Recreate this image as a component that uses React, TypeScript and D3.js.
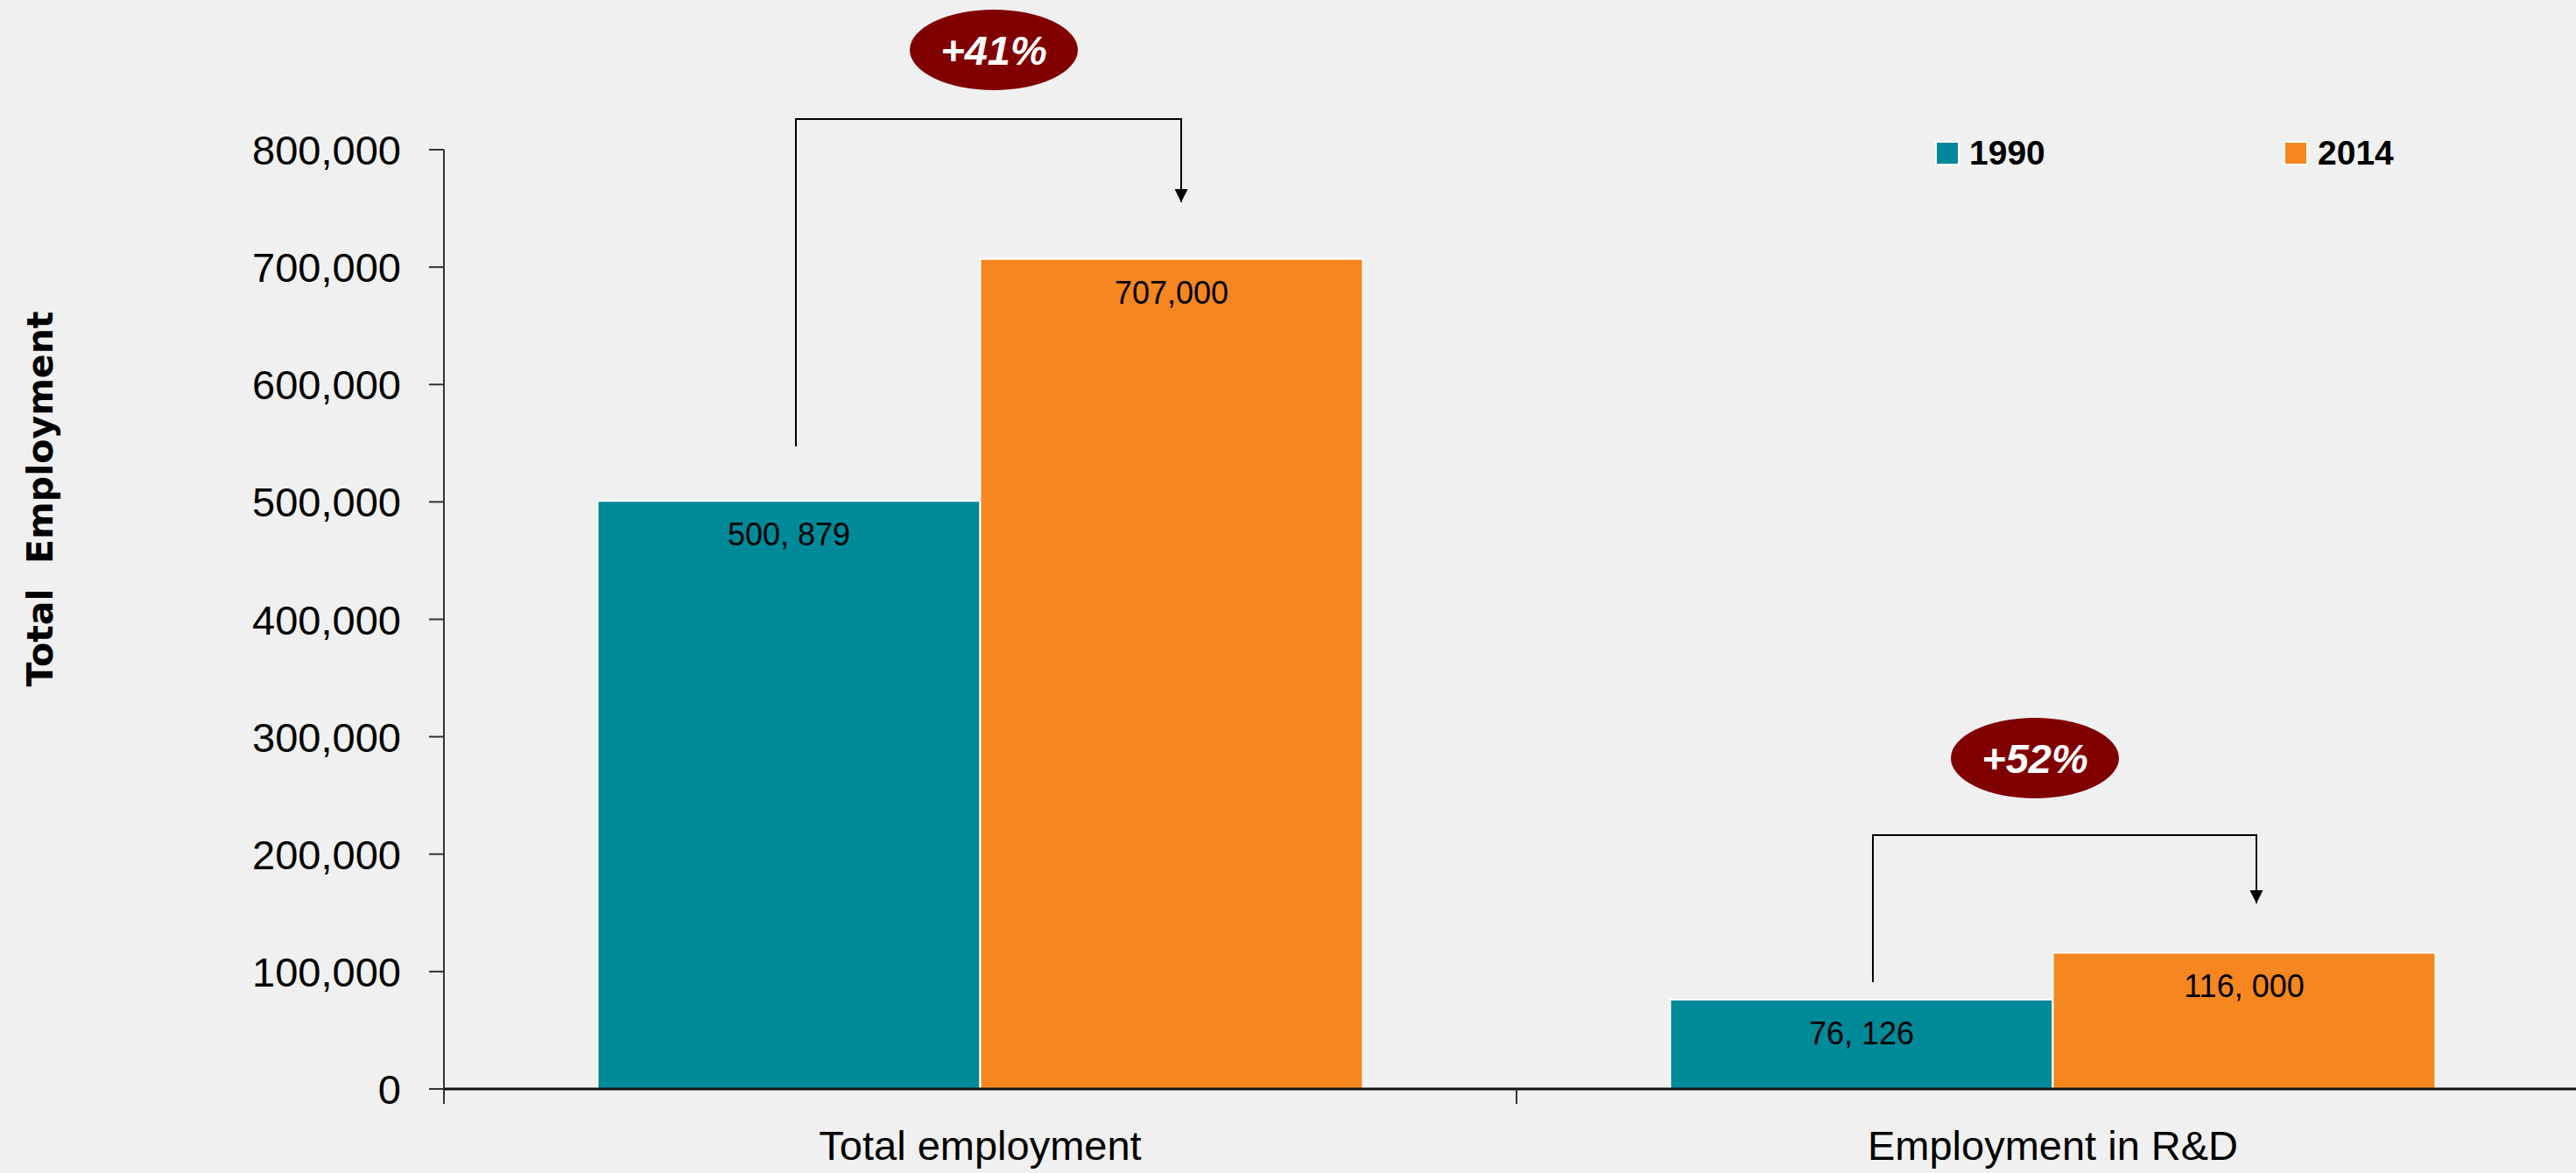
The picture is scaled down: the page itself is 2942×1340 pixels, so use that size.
import React from "react";
import * as d3 from "d3";

const categories = ["Total employment", "Employment in R&D"];
const seriesNames = ["1990", "2014"];
const values1990 = [500879, 76126];
const values2014 = [707000, 116000];
const valueLabels1990 = ["500, 879", "76, 126"];
const valueLabels2014 = ["707,000", "116, 000"];
const changeLabels = ["+41%", "+52%"];
const yTicks = [0, 100000, 200000, 300000, 400000, 500000, 600000, 700000, 800000];

const W = 2942;
const H = 1340;
const BG = "#F0F0F0";
const TEAL = "#008998";
const ORANGE = "#F58620";
const MAROON = "#800000";
const FONT = "'Liberation Sans', Arial, sans-serif";

// annotation layout (pixel geometry) per category
const annoLayout = [
  { top: 136, tip: 231, leftBottom: 510, ellCx: 1135, ellCy: 57, dxL: 8, dxR: 11 },
  { top: 954, tip: 1032, leftBottom: 1122, ellCx: 2324, ellCy: 866, dxL: 13, dxR: 14 },
];

export default function App() {
  const y = d3.scaleLinear().domain([0, 800000]).range([1244, 171]);
  const x0 = d3
    .scaleBand<string>()
    .domain(categories)
    .range([507, 2957])
    .paddingInner(0.2865)
    .paddingOuter(0.2865 / 2);
  const x1 = d3.scaleBand<string>().domain(seriesNames).range([0, x0.bandwidth()]);
  const fmt = d3.format(",");
  const axisX = 507;
  const base = y(0);

  const seriesVals = [values1990, values2014];
  const seriesLabels = [valueLabels1990, valueLabels2014];
  const colors = [TEAL, ORANGE];

  return (
    <svg
      width={W}
      height={H}
      style={{ position: "absolute", left: 0, top: 0 }}
      xmlns="http://www.w3.org/2000/svg"
    >
      <defs>
        <marker id="arr" viewBox="0 0 10 10" refX="10" refY="5" markerWidth="15" markerHeight="15" markerUnits="userSpaceOnUse" orient="auto">
          <path d="M0,0 L10,5 L0,10 Z" fill="#000" />
        </marker>
      </defs>
      <rect x={0} y={0} width={W} height={H} fill={BG} />

      {/* bars */}
      {categories.map((c, ci) =>
        seriesNames.map((s, si) => {
          const v = seriesVals[si][ci];
          const bx = (x0(c) as number) + (x1(s) as number);
          const by = y(v);
          return (
            <g key={c + s}>
              <rect
                x={bx}
                y={by}
                width={x1.bandwidth()}
                height={base - by}
                fill={colors[si]}
                stroke="#FFFFFF"
                strokeWidth={2}
              />
              <text
                x={bx + x1.bandwidth() / 2}
                y={by + 51}
                textAnchor="middle"
                fontFamily={FONT}
                fontSize={36}
                fill="#000"
              >
                {seriesLabels[si][ci]}
              </text>
            </g>
          );
        })
      )}

      {/* y axis */}
      <line x1={axisX} x2={axisX} y1={y(800000)} y2={base + 17} stroke="#333" strokeWidth={2} />
      {yTicks.map((t) => (
        <g key={t}>
          <line x1={axisX - 17} x2={axisX} y1={y(t)} y2={y(t)} stroke="#333" strokeWidth={2} />
          <text
            x={458}
            y={y(t) + 17}
            textAnchor="end"
            fontFamily={FONT}
            fontSize={47}
            fill="#000"
          >
            {fmt(t)}
          </text>
        </g>
      ))}
      {/* x axis */}
      <line x1={axisX} x2={W} y1={base} y2={base} stroke="#111" strokeWidth={3} />
      <line
        x1={(x0(categories[1]) as number) - (x0.step() - x0.bandwidth()) / 2}
        x2={(x0(categories[1]) as number) - (x0.step() - x0.bandwidth()) / 2}
        y1={base}
        y2={base + 17}
        stroke="#333"
        strokeWidth={2}
      />
      {categories.map((c) => (
        <text
          key={c}
          x={(x0(c) as number) + x0.bandwidth() / 2}
          y={1325}
          textAnchor="middle"
          fontFamily={FONT}
          fontSize={47}
          fill="#000"
        >
          {c}
        </text>
      ))}

      {/* y title */}
      <text
        transform={`translate(60,570) rotate(-90)`}
        textAnchor="middle"
        fontFamily="'DejaVu Sans', sans-serif"
        fontWeight="bold"
        fontSize={41}
        fill="#000"
        style={{ whiteSpace: "pre" }}
      >
        {"Total  Employment"}
      </text>

      {/* legend */}
      {seriesNames.map((s, i) => {
        const lx = [2211, 2609][i];
        return (
          <g key={s}>
            <rect x={lx} y={162} width={26} height={26} fill={colors[i]} stroke="#FFFFFF" strokeWidth={2} />
            <text x={lx + 38} y={188} fontFamily={FONT} fontWeight="bold" fontSize={39} fill="#000">
              {s}
            </text>
          </g>
        );
      })}

      {/* annotations */}
      {categories.map((c, ci) => {
        const a = annoLayout[ci];
        const xl = (x0(c) as number) + (x1(seriesNames[0]) as number) + x1.bandwidth() / 2 + a.dxL;
        const xr = (x0(c) as number) + (x1(seriesNames[1]) as number) + x1.bandwidth() / 2 + a.dxR;
        return (
          <g key={"a" + c}>
            <path
              d={`M${xl},${a.leftBottom} L${xl},${a.top} L${xr},${a.top} L${xr},${a.tip}`}
              fill="none"
              stroke="#000"
              strokeWidth={2}
              markerEnd="url(#arr)"
            />
            <ellipse cx={a.ellCx} cy={a.ellCy} rx={96} ry={46} fill={MAROON} />
            <text
              x={a.ellCx}
              y={a.ellCy + 17}
              textAnchor="middle"
              fontFamily={FONT}
              fontWeight="bold"
              fontStyle="italic"
              fontSize={47}
              fill="#FFFFFF"
            >
              {changeLabels[ci]}
            </text>
          </g>
        );
      })}
    </svg>
  );
}
